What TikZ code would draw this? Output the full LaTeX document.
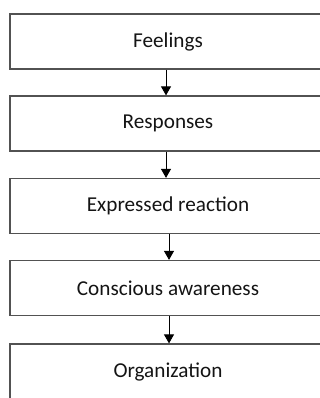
\documentclass[tikz,border=0pt]{standalone}
\usepackage{fontspec}
\setmainfont{Carlito}
\usetikzlibrary{arrows.meta}
\begin{document}
\begin{tikzpicture}[x=1pt,y=1pt,
  stagebox/.style={draw=black!68, line width=1.2pt, rectangle,
    minimum width=316pt, minimum height=55pt, inner sep=0pt,
    font=\fontsize{21.2}{25}\selectfont, text=black!92},
  flow/.style={draw=black, line width=0.9pt,
    -{Triangle[width=10pt,length=9pt]}}]
\useasboundingbox (0,0) rectangle (320,398);
\clip (0,0) rectangle (320,398);
% stages, top to bottom
\node[stagebox] (feel) at (168,356.5) {Feelings};
\node[stagebox] (resp) at (168,274.5) {Responses};
\node[stagebox] (expr) at (168,192) {Expressed reaction};
\node[stagebox] (cons) at (168,110) {Conscious awareness};
\node[stagebox] (org)  at (168,26.5) {Organization};
% connectors
\draw[flow] ([xshift=-2pt]feel.south) -- ([xshift=-2pt]resp.north);
\draw[flow] ([xshift=-2pt]resp.south) -- ([xshift=-2pt]expr.north);
\draw[flow] ([xshift=1pt]expr.south) -- ([xshift=1pt]cons.north);
\draw[flow] ([xshift=1pt]cons.south) -- ([xshift=1pt]org.north);
\end{tikzpicture}
\end{document}
